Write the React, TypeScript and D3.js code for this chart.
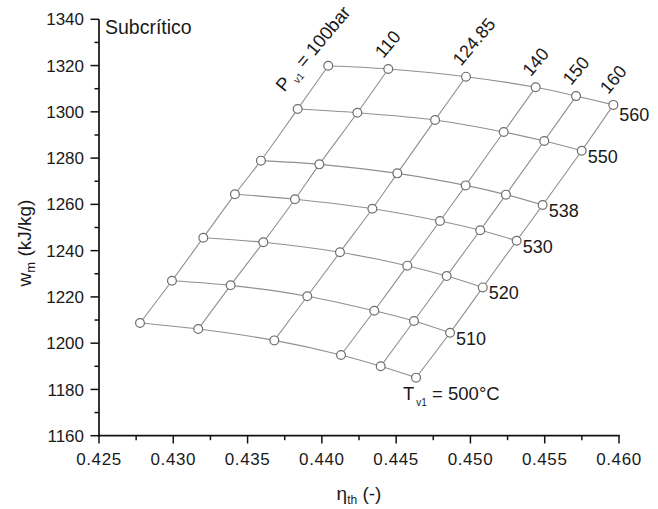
import React from "react";
import * as d3 from "d3";

const temperatures = [500, 510, 520, 530, 538, 550, 560];
const pressures = ["100", "110", "124.85", "140", "150", "160"];

const etaP100 = [0.42776, 0.42991, 0.43202, 0.43415, 0.4359, 0.43837, 0.44043];
const wP100 = [1208.7, 1227.0, 1245.6, 1264.4, 1278.9, 1301.2, 1319.9];
const etaP110 = [0.43168, 0.43386, 0.43606, 0.43819, 0.43983, 0.44239, 0.44447];
const wP110 = [1206.1, 1225.0, 1243.6, 1262.2, 1277.3, 1299.6, 1318.5];
const etaP124 = [0.4368, 0.43902, 0.44122, 0.4434, 0.44508, 0.44762, 0.4497];
const wP124 = [1201.2, 1220.3, 1239.3, 1258.1, 1273.4, 1296.5, 1315.2];
const etaP140 = [0.44129, 0.44353, 0.44575, 0.44795, 0.44968, 0.45224, 0.45439];
const wP140 = [1194.9, 1214.0, 1233.5, 1252.8, 1268.2, 1291.3, 1310.6];
const etaP150 = [0.44396, 0.4462, 0.4484, 0.45066, 0.45239, 0.45497, 0.45711];
const wP150 = [1190.0, 1209.6, 1229.0, 1248.8, 1264.2, 1287.4, 1306.8];
const etaP160 = [0.44634, 0.44863, 0.45083, 0.45311, 0.45486, 0.45749, 0.45962];
const wP160 = [1185.1, 1204.5, 1224.1, 1244.3, 1259.7, 1283.2, 1303.0];

const etaByP = [etaP100, etaP110, etaP124, etaP140, etaP150, etaP160];
const wByP = [wP100, wP110, wP124, wP140, wP150, wP160];

const xTicks = [0.425, 0.43, 0.435, 0.44, 0.445, 0.45, 0.455, 0.46];
const yTicks = [1160, 1180, 1200, 1220, 1240, 1260, 1280, 1300, 1320, 1340];

const W = 658;
const H = 509;
const FONT = "Arial, 'Liberation Sans', Helvetica, sans-serif";
const TXT = "#1a1a1a";

export default function App() {
  const x = d3.scaleLinear().domain([0.425, 0.46]).range([99, 619]);
  const y = d3.scaleLinear().domain([1160, 1340]).range([435.7, 19.3]);

  const line = d3
    .line<[number, number]>()
    .x((d) => x(d[0]))
    .y((d) => y(d[1]))
    .curve(d3.curveCatmullRom.alpha(0.5));

  const pLines = etaByP.map((etas, i) =>
    etas.map((e, j) => [e, wByP[i][j]] as [number, number])
  );
  const tLines = temperatures.map((_, j) =>
    etaByP.map((etas, i) => [etas[j], wByP[i][j]] as [number, number])
  );

  const xMinor = d3.range(0.4275, 0.46, 0.005);
  const yMinor = d3.range(1170, 1340, 20);

  const top = temperatures.length - 1;

  return (
    <svg
      width={W}
      height={H}
      style={{ position: "absolute", left: 0, top: 0, background: "#fff" }}
      fontFamily={FONT}
    >
      {/* grid lines */}
      {tLines.map((pts, j) => (
        <path key={"t" + j} d={line(pts) || ""} fill="none" stroke="#909090" strokeWidth={1.1} />
      ))}
      {pLines.map((pts, i) => (
        <path key={"p" + i} d={line(pts) || ""} fill="none" stroke="#909090" strokeWidth={1.1} />
      ))}
      {/* markers */}
      {pLines.map((pts, i) =>
        pts.map((d, j) => (
          <circle
            key={"m" + i + "-" + j}
            cx={x(d[0])}
            cy={y(d[1])}
            r={4.4}
            fill="#fff"
            stroke="#6e6e6e"
            strokeWidth={1.2}
          />
        ))
      )}

      {/* axes */}
      <line x1={99} x2={99} y1={y(1340)} y2={436.5} stroke="#111" strokeWidth={1.7} />
      <line x1={98} x2={619.8} y1={435.7} y2={435.7} stroke="#111" strokeWidth={1.7} />
      {yTicks.map((t) => (
        <g key={"yt" + t}>
          <line x1={90.5} x2={99} y1={y(t)} y2={y(t)} stroke="#111" strokeWidth={1.5} />
          <text x={84} y={y(t)} dy="0.36em" textAnchor="end" fontSize={17} fill={TXT}>
            {t}
          </text>
        </g>
      ))}
      {yMinor.map((t) => (
        <line key={"ym" + t} x1={94.5} x2={99} y1={y(t)} y2={y(t)} stroke="#111" strokeWidth={1.5} />
      ))}
      {xTicks.map((t) => (
        <g key={"xt" + t}>
          <line x1={x(t)} x2={x(t)} y1={435.7} y2={443.5} stroke="#111" strokeWidth={1.5} />
          <text x={x(t)} y={465} textAnchor="middle" fontSize={17} fill={TXT} letterSpacing={0.6}>
            {t.toFixed(3)}
          </text>
        </g>
      ))}
      {xMinor.map((t) => (
        <line key={"xm" + t} x1={x(t)} x2={x(t)} y1={435.7} y2={440.2} stroke="#111" strokeWidth={1.5} />
      ))}

      {/* axis titles */}
      <text x={359} y={500} textAnchor="middle" fontSize={19} fill={TXT}>
        η
        <tspan fontSize={12} dy={4}>th</tspan>
        <tspan dy={-4}> (-)</tspan>
      </text>
      <text
        transform={`translate(31,243) rotate(-90)`}
        textAnchor="middle"
        fontSize={19}
        fill={TXT}
      >
        w
        <tspan fontSize={13} dy={4}>m</tspan>
        <tspan dy={-4}> (kJ/kg)</tspan>
      </text>

      <text x={105} y={34} fontSize={19.5} fill={TXT}>
        Subcrítico
      </text>

      {/* pressure labels */}
      {pressures.map((p, i) => {
        const px = x(etaByP[i][top]);
        const py = y(wByP[i][top]);
        if (i === 0) {
          return (
            <text
              key={"pl" + i}
              transform={`translate(${px - 44},${py + 27}) rotate(-50)`}
              fontSize={18.5}
              fill={TXT}
            >
              P
              <tspan fontSize={10} dy={5} dx={3}>v1</tspan>
              <tspan dy={-5}> = {p}bar</tspan>
            </text>
          );
        }
        return (
          <text
            key={"pl" + i}
            transform={`translate(${px - 5},${py - 10}) rotate(-50)`}
            fontSize={18}
            fill={TXT}
          >
            {p}
          </text>
        );
      })}

      {/* temperature labels */}
      {temperatures.map((t, j) => {
        const last = etaByP.length - 1;
        const px = x(etaByP[last][j]);
        const py = y(wByP[last][j]);
        if (j === 0) {
          return (
            <text key={"tl" + j} x={px - 13} y={py + 22} fontSize={18.5} fill={TXT}>
              T
              <tspan fontSize={10} dy={6} dx={2}>v1</tspan>
              <tspan dy={-6}> = {t}°C</tspan>
            </text>
          );
        }
        return (
          <text key={"tl" + j} x={px + 6} y={py + (j === top ? 16 : 12)} fontSize={18} fill={TXT}>
            {t}
          </text>
        );
      })}
    </svg>
  );
}
